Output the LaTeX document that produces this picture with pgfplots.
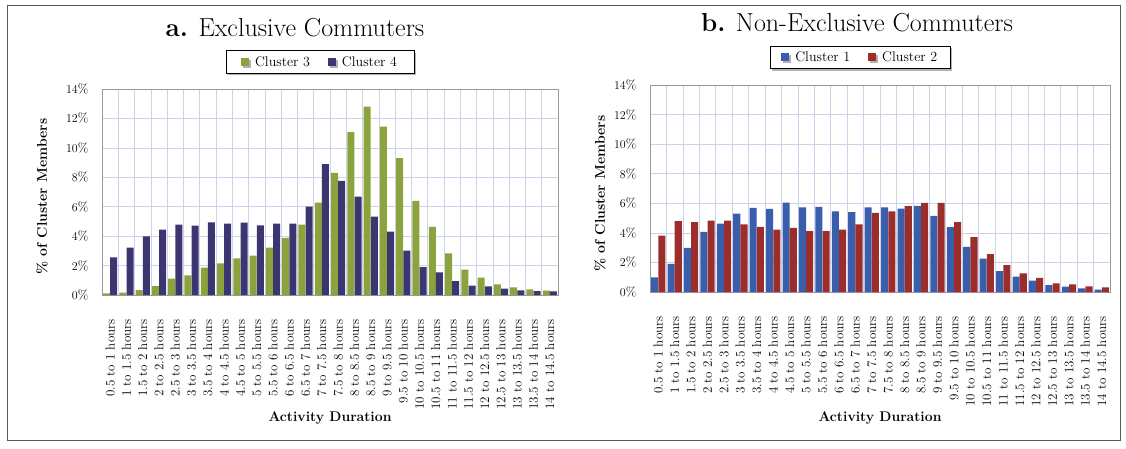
\documentclass[border=0pt]{standalone}
\usepackage{pgfplots}
\pgfplotsset{compat=1.18}
\usetikzlibrary{shadows}
\definecolor{cthree}{RGB}{138,163,60}
\definecolor{cfour}{RGB}{60,54,112}
\definecolor{cone}{RGB}{56,94,172}
\definecolor{ctwo}{RGB}{155,46,42}
\definecolor{gridc}{RGB}{208,208,234}
\pgfplotsset{
  commonstyle/.style={
    scale only axis,
    ybar=0pt, bar width=0.43,
    xmin=-0.5, xmax=27.5, ymin=0, ymax=14,
    ytick={0,2,...,14},
    yticklabel={\pgfmathprintnumber{\tick}\%},
    xtick={0,...,27},
    xticklabels={0.5 to 1 hours, 1 to 1.5 hours, 1.5 to 2 hours, 2 to 2.5 hours, 2.5 to 3 hours, 3 to 3.5 hours, 3.5 to 4 hours, 4 to 4.5 hours, 4.5 to 5 hours, 5 to 5.5 hours, 5.5 to 6 hours, 6 to 6.5 hours, 6.5 to 7 hours, 7 to 7.5 hours, 7.5 to 8 hours, 8 to 8.5 hours, 8.5 to 9 hours, 9 to 9.5 hours, 9.5 to 10 hours, 10 to 10.5 hours, 10.5 to 11 hours, 11 to 11.5 hours, 11.5 to 12 hours, 12 to 12.5 hours, 12.5 to 13 hours, 13 to 13.5 hours, 13.5 to 14 hours, 14 to 14.5 hours},
    minor xtick={-0.5,0.5,...,27.5},
    xminorgrids, ymajorgrids,
    grid style={gridc, line width=0.6pt},
    minor grid style={gridc, line width=0.6pt},
    major tick length=0pt, minor tick length=0pt,
    axis line style={black!40},
    x tick label style={yshift=-9pt, rotate=90, anchor=east, font=\fontsize{13}{13}\selectfont},
    xticklabel shift=12pt,
    y tick label style={font=\fontsize{13}{13}\selectfont},
    yticklabel shift=10pt,
    xlabel={Activity Duration},
    ylabel={\% of Cluster Members},
    label style={font=\bfseries\fontsize{14}{14}\selectfont},
    legend columns=2,
    legend image code/.code={\fill[#1] (0pt,-4pt) rectangle (8pt,4pt);},
    legend style={anchor=center, draw=black, line width=0.7pt, fill=white,
      drop shadow={shadow xshift=2pt, shadow yshift=-2pt, opacity=0.6},
      font=\fontsize{14}{14}\selectfont, inner xsep=15pt, inner ysep=3.5pt,
      /tikz/every even column/.append style={column sep=16pt}},
  }
}
\begin{document}
\begin{tikzpicture}
\path[use as bounding box] (0pt,0pt) rectangle (1126pt,448pt);
\draw[black!65, line width=1pt] (7pt,8pt) rectangle (1120pt,442pt);
\node[font=\fontsize{26}{26}\selectfont] at (295pt,420pt) {\textbf{a.} Exclusive Commuters};
\node[font=\fontsize{26}{26}\selectfont] at (857pt,425pt) {\textbf{b.} Non-Exclusive Commuters};
\begin{axis}[commonstyle,
  at={(102pt,153pt)}, anchor=south west, width=456pt, height=206pt,
  xlabel style={at={(axis description cs:0.5,-0.597)}, anchor=center},
  ylabel style={at={(axis description cs:-0.1316,0.478)}, anchor=center},
  legend style={at={(axis description cs:0.478,1.131)}}]
\addplot[fill=cthree, draw=none, bar shift=-0.22] coordinates {
(0,0.11) (1,0.16) (2,0.34) (3,0.61) (4,1.11) (5,1.34) (6,1.86) (7,2.15) (8,2.49) (9,2.68)
(10,3.22) (11,3.88) (12,4.78) (13,6.28) (14,8.30) (15,11.07) (16,12.81) (17,11.45) (18,9.30) (19,6.39)
(20,4.63) (21,2.83) (22,1.72) (23,1.18) (24,0.73) (25,0.52) (26,0.39) (27,0.29)};
\addplot[fill=cfour, draw=none, bar shift=0.22] coordinates {
(0,2.56) (1,3.22) (2,3.99) (3,4.44) (4,4.78) (5,4.72) (6,4.94) (7,4.85) (8,4.92) (9,4.74)
(10,4.85) (11,4.85) (12,6.00) (13,8.89) (14,7.76) (15,6.69) (16,5.33) (17,4.31) (18,3.02) (19,1.90)
(20,1.54) (21,0.95) (22,0.63) (23,0.59) (24,0.43) (25,0.32) (26,0.27) (27,0.25)};
\legend{\hspace{4pt}Cluster 3, \hspace{4pt}Cluster 4}
\end{axis}
\begin{axis}[commonstyle,
  at={(650pt,156pt)}, anchor=south west, width=460pt, height=207pt,
  xlabel style={at={(axis description cs:0.5,-0.609)}, anchor=center},
  ylabel style={at={(axis description cs:-0.1087,0.476)}, anchor=center},
  legend style={at={(axis description cs:0.457,1.133)}, inner xsep=11pt}]
\addplot[fill=cone, draw=none, bar shift=-0.22] coordinates {
(0,0.99) (1,1.90) (2,2.98) (3,4.06) (4,4.63) (5,5.30) (6,5.69) (7,5.62) (8,6.05) (9,5.73)
(10,5.76) (11,5.46) (12,5.40) (13,5.73) (14,5.73) (15,5.64) (16,5.82) (17,5.15) (18,4.38) (19,3.05)
(20,2.26) (21,1.42) (22,1.04) (23,0.77) (24,0.47) (25,0.36) (26,0.25) (27,0.16)};
\addplot[fill=ctwo, draw=none, bar shift=0.22] coordinates {
(0,3.81) (1,4.79) (2,4.72) (3,4.83) (4,4.83) (5,4.58) (6,4.40) (7,4.22) (8,4.33) (9,4.11)
(10,4.11) (11,4.22) (12,4.58) (13,5.35) (14,5.46) (15,5.80) (16,6.03) (17,6.03) (18,4.72) (19,3.72)
(20,2.57) (21,1.81) (22,1.26) (23,0.95) (24,0.59) (25,0.52) (26,0.38) (27,0.32)};
\legend{\hspace{4pt}Cluster 1, \hspace{4pt}Cluster 2}
\end{axis}
\end{tikzpicture}
\end{document}
